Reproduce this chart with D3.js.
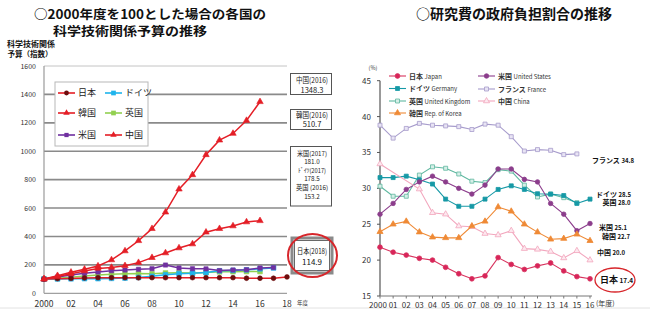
<!DOCTYPE html>
<html>
<head>
<meta charset="utf-8">
<script src="https://cdn.jsdelivr.net/npm/d3@7"></script>
<style>
  body { margin: 0; background: #fff; }
  svg { display: block; font-family: "Noto Sans CJK JP", "Noto Sans", sans-serif; }
</style>
</head>
<body>
<svg id="chart" width="650" height="321"></svg>
<script>
// ---- left chart: S&T budget index (2000 = 100)
const yearsIdx = [2000, 2001, 2002, 2003, 2004, 2005, 2006, 2007, 2008, 2009,
  2010, 2011, 2012, 2013, 2014, 2015, 2016, 2017, 2018]
const japanIdx = [100, 103, 105, 108, 110, 110, 110, 109, 110, 110, 110, 110, 110, 110, 110, 106, 106, 106, 114.9]
const germanyIdx = [100, 101, 102, 103, 103, 105, 107, 112, 120, 130, 138, 142, 146, 158, 161, 165, 172, 178.5]
const ukIdx = [100, 106, 113, 121, 129, 134, 138, 140, 137, 143, 145, 143, 146, 151, 152, 153, 153.2]
const usIdx = [100, 115, 128, 141, 150, 159, 164, 169, 173, 199, 178, 173, 172, 160, 164, 166, 178, 181.0]
const koreaIdx = [100, 118, 137, 157, 175, 182, 194, 216, 251, 284, 319, 347, 430, 455, 474, 502, 510.7]
const chinaIdx = [100, 124, 148, 169, 192, 235, 298, 370, 455, 571, 733, 834, 975, 1078, 1125, 1216, 1348.3]
const idxTicks = [0, 200, 400, 600, 800, 1000, 1200, 1400, 1600]
const idxYearTicks = [2000, 2002, 2004, 2006, 2008, 2010, 2012, 2014, 2016, 2018]

// ---- right chart: government share of research expenditure (%)
const yearsPct = [2000, 2001, 2002, 2003, 2004, 2005, 2006, 2007, 2008,
  2009, 2010, 2011, 2012, 2013, 2014, 2015, 2016]
const japanPct = [21.8, 21.1, 20.7, 20.25, 20.0, 19.0, 18.1, 17.4, 17.8, 20.35, 19.4, 18.7, 19.2, 19.6, 18.5, 17.7, 17.4]
const germanyPct = [31.5, 31.5, 31.7, 31.2, 30.6, 28.5, 27.5, 27.5, 28.5, 29.85, 30.35, 29.85, 29.25, 29.2, 29.0, 27.9, 28.5]
const ukPct = [30.3, 28.9, 28.9, 31.85, 33.0, 32.8, 32.0, 31.0, 30.8, 32.6, 32.4, 30.45, 28.8, 29.2, 28.7, 28.0]
const koreaPct = [23.95, 25.0, 25.4, 23.9, 23.2, 23.1, 23.1, 24.75, 25.4, 27.4, 26.8, 25.0, 23.9, 22.9, 23.0, 23.6, 22.7]
const usPct = [26.4, 27.9, 29.85, 30.9, 31.7, 30.9, 30.0, 29.2, 30.45, 32.7, 32.7, 31.25, 30.9, 27.9, 26.4, 24.1, 25.1]
const francePct = [38.8, 37.0, 38.35, 39.05, 38.8, 38.7, 38.6, 38.2, 38.95, 38.8, 37.2, 35.2, 35.4, 35.3, 34.7, 34.8]
const chinaPct = [33.4, null, null, 29.9, 26.6, 26.4, 24.75, 24.65, 23.7, 23.5, 24.1, 21.6, 21.5, 21.2, 20.3, 21.3, 20.0]
const pctTicks = [15, 20, 25, 30, 35, 40, 45]
const pctYearLabels = ['2000', '01', '02', '03', '04', '05', '06', '07', '08', '09', '10', '11', '12', '13', '14', '15', '16']

const svg = d3.select('#chart')

// ================= LEFT CHART =================
const xL = d3.scaleLinear().domain([2000, 2018]).range([44, 287])
const yL = d3.scaleLinear().domain([0, 1600]).range([293.3, 66])

svg.append('text').attr('x', 34).attr('y', 19)
  .attr('textLength', 232).attr('lengthAdjust', 'spacingAndGlyphs')
  .style('font-size', '12.5px').style('font-weight', 700).attr('fill', '#111')
  .text('○2000年度を100とした場合の各国の')
svg.append('text').attr('x', 53).attr('y', 35.5)
  .attr('textLength', 154).attr('lengthAdjust', 'spacingAndGlyphs')
  .style('font-size', '12.5px').style('font-weight', 700).attr('fill', '#111')
  .text('科学技術関係予算の推移')

svg.append('text').attr('x', 31).attr('y', 47).attr('text-anchor', 'middle')
  .style('font-size', '8px').style('font-weight', 700).attr('fill', '#111')
  .text('科学技術関係')
svg.append('text').attr('x', 30).attr('y', 57).attr('text-anchor', 'middle')
  .style('font-size', '7.5px').style('font-weight', 700).attr('fill', '#111')
  .text('予算（指数）')

// grid
svg.append('g').selectAll('line').data(idxTicks.filter(d => d > 0)).enter()
  .append('line')
  .attr('x1', xL(2000)).attr('x2', xL(2018))
  .attr('y1', d => yL(d)).attr('y2', d => yL(d))
  .attr('stroke', d => d === 1600 ? '#c4c4c4' : '#8a8a8a')
  .attr('stroke-width', d => d === 1600 ? 1 : 1.6)

// axes
svg.append('line').attr('x1', xL(2000)).attr('x2', xL(2000))
  .attr('y1', yL(1600)).attr('y2', yL(0)).attr('stroke', '#9a9a9a').attr('stroke-width', 1.2)
svg.append('line').attr('x1', xL(2000)).attr('x2', xL(2018))
  .attr('y1', yL(0)).attr('y2', yL(0)).attr('stroke', '#a0a0a0').attr('stroke-width', 1.2)

svg.append('g').selectAll('text').data(idxTicks).enter()
  .append('text')
  .attr('x', 36).attr('y', d => yL(d) + 2.5)
  .attr('text-anchor', 'end')
  .style('font-size', '7px').attr('fill', '#333')
  .text(d => d)

svg.append('g').selectAll('text').data(idxYearTicks).enter()
  .append('text')
  .attr('x', d => xL(d)).attr('y', 307)
  .attr('text-anchor', 'middle')
  .style('font-size', '8.5px').attr('fill', '#333')
  .text(d => d === 2000 ? '2000' : String(d).slice(2))
svg.append('text').attr('x', 297).attr('y', 305)
  .style('font-size', '5.5px').attr('fill', '#333').text('年度')

const leftSeries = [
  { name: '英国', values: ukIdx, color: '#92d050', mfill: '#92d050', shape: d3.symbolSquare, size: 22 },
  { name: 'ドイツ', values: germanyIdx, color: '#1fb4ec', mfill: '#1fb4ec', shape: d3.symbolSquare, size: 22 },
  { name: '米国', values: usIdx, color: '#7030a0', mfill: '#7030a0', shape: d3.symbolSquare, size: 18 },
  { name: '日本', values: japanIdx, color: '#e41e26', mfill: '#6d0d0d', shape: d3.symbolCircle, size: 18 },
  { name: '韓国', values: koreaIdx, color: '#e41e26', mfill: '#e41e26', shape: d3.symbolTriangle, size: 18 },
  { name: '中国', values: chinaIdx, color: '#e41e26', mfill: '#e41e26', shape: d3.symbolTriangle, size: 18 }
]

const lineL = d3.line().x(d => xL(d[0])).y(d => yL(d[1]))

leftSeries.forEach(s => {
  const pts = s.values.map((v, i) => [yearsIdx[i], v])
  const g = svg.append('g')
  g.append('path').attr('d', lineL(pts))
    .attr('fill', 'none').attr('stroke', s.color).attr('stroke-width', 1.5)
  g.selectAll('path.m').data(pts).enter()
    .append('path').attr('class', 'm')
    .attr('transform', d => `translate(${xL(d[0])},${yL(d[1])})`)
    .attr('d', d3.symbol().type(s.shape).size(s.size))
    .attr('fill', s.mfill).attr('stroke', s.mfill).attr('stroke-width', 0.6)
})

// legend
const legL = svg.append('g')
legL.append('rect').attr('x', 55).attr('y', 82).attr('width', 93).attr('height', 64)
  .attr('fill', '#fff').attr('stroke', '#b8b8b8').attr('stroke-width', 1)
const legendOrder = ['日本', 'ドイツ', '韓国', '英国', '米国', '中国']
legendOrder.forEach((name, i) => {
  const s = leftSeries.find(d => d.name === name)
  const cx = i % 2 === 0 ? 58 : 105
  const cy = [93, 113, 135][Math.floor(i / 2)]
  legL.append('line').attr('x1', cx).attr('x2', cx + 17).attr('y1', cy).attr('y2', cy)
    .attr('stroke', s.color).attr('stroke-width', 1.6)
  legL.append('path').attr('transform', `translate(${cx + 8.5},${cy})`)
    .attr('d', d3.symbol().type(s.shape).size(s.size)).attr('fill', s.mfill)
  legL.append('text').attr('x', cx + 20).attr('y', cy + 3.3)
    .style('font-size', '9px').attr('fill', '#222').text(name)
})

// annotation boxes
const last = arr => arr[arr.length - 1]
const fmt = d3.format('.1f')
const boxes = [
  { y: 73.5, h: 21, size: 7.5, lines: [['中国(2016)', 83, 32], [fmt(last(chinaIdx)), 92.5, 0]] },
  { y: 109.5, h: 20, size: 7.5, lines: [['韓国(2016)', 117.5, 32], [fmt(last(koreaIdx)), 127, 0]] },
  { y: 146.5, h: 59.5, size: 6.3, lines: [['米国(2017)', 155.5, 30], [fmt(last(usIdx)), 164, 0],
    ['ﾄﾞｲﾂ(2017)', 172.5, 28], [fmt(last(germanyIdx)), 181, 0],
    ['英国 (2016)', 190, 32], [fmt(last(ukIdx)), 199, 0]] }
]
boxes.forEach(b => {
  svg.append('rect').attr('x', 290.5).attr('y', b.y).attr('width', 41).attr('height', b.h)
    .attr('fill', '#fff').attr('stroke', '#555').attr('stroke-width', 1)
  b.lines.forEach(l => {
    const t = svg.append('text').attr('x', 312).attr('y', l[1]).attr('text-anchor', 'middle')
      .style('font-size', b.size + 'px').attr('fill', '#222').text(l[0])
    if (l[2]) t.attr('textLength', l[2]).attr('lengthAdjust', 'spacingAndGlyphs')
  })
})
svg.append('rect').attr('x', 292).attr('y', 238).attr('width', 40).attr('height', 35)
  .attr('fill', '#fff').attr('stroke', '#8a8a8a').attr('stroke-width', 3)
svg.append('rect').attr('x', 294.5).attr('y', 240.5).attr('width', 35).attr('height', 30)
  .attr('fill', '#fff').attr('stroke', '#444').attr('stroke-width', 0.8)
svg.append('text').attr('x', 312).attr('y', 254).attr('text-anchor', 'middle')
  .attr('textLength', 30).attr('lengthAdjust', 'spacingAndGlyphs')
  .style('font-size', '8px').attr('fill', '#111').text('日本(2018)')
svg.append('text').attr('x', 312).attr('y', 264.5).attr('text-anchor', 'middle')
  .style('font-size', '8px').attr('fill', '#111').text(fmt(last(japanIdx)))
svg.append('ellipse').attr('cx', 312.5).attr('cy', 255.5).attr('rx', 24.5).attr('ry', 21.5)
  .attr('fill', 'none').attr('stroke', '#d7262b').attr('stroke-width', 2)

// faint slide line
svg.append('line').attr('x1', 0).attr('x2', 650).attr('y1', 308).attr('y2', 308)
  .attr('stroke', '#e2e2e2').attr('stroke-width', 1)

// ================= RIGHT CHART =================
const xR = d3.scaleLinear().domain([2000, 2016]).range([380, 590])
const yR = d3.scaleLinear().domain([15, 45]).range([296, 80.7])

svg.append('text').attr('x', 416).attr('y', 19)
  .attr('textLength', 196).attr('lengthAdjust', 'spacingAndGlyphs')
  .style('font-size', '14px').style('font-weight', 700).attr('fill', '#111')
  .text('○研究費の政府負担割合の推移')

svg.append('line').attr('x1', xR(2000)).attr('x2', xR(2000))
  .attr('y1', yR(45)).attr('y2', yR(15)).attr('stroke', '#555').attr('stroke-width', 1.2)
svg.append('line').attr('x1', xR(2000)).attr('x2', xR(2016) + 2)
  .attr('y1', yR(15)).attr('y2', yR(15)).attr('stroke', '#777').attr('stroke-width', 1)
svg.append('g').selectAll('line').data(pctTicks).enter().append('line')
  .attr('x1', xR(2000) - 3).attr('x2', xR(2000))
  .attr('y1', d => yR(d)).attr('y2', d => yR(d)).attr('stroke', '#555')
svg.append('g').selectAll('line').data(yearsPct).enter().append('line')
  .attr('x1', d => xR(d)).attr('x2', d => xR(d))
  .attr('y1', yR(15)).attr('y2', yR(15) + 2.5).attr('stroke', '#777')

svg.append('g').selectAll('text').data(pctTicks).enter().append('text')
  .attr('x', 371).attr('y', d => yR(d) + 3)
  .attr('text-anchor', 'end')
  .style('font-size', '8px').attr('fill', '#333').text(d => d)
svg.append('text').attr('x', 373).attr('y', 70).attr('text-anchor', 'middle')
  .style('font-size', '5.5px').attr('fill', '#333').text('(%)')

svg.append('g').selectAll('text').data(yearsPct).enter().append('text')
  .attr('x', (d, i) => i === 0 ? xR(d) - 2 : xR(d))
  .attr('y', 308)
  .attr('text-anchor', 'middle')
  .style('font-size', '8px').attr('fill', '#333')
  .text((d, i) => pctYearLabels[i])
svg.append('text').attr('x', 596).attr('y', 305.5)
  .style('font-size', '7px').attr('fill', '#333').text('(年度)')

const rightSeries = [
  { name: 'フランス France', values: francePct, color: '#a79ccc', fill: '#e8e4f4', shape: d3.symbolSquare, size: 16 },
  { name: '英国 United Kingdom', values: ukPct, color: '#5fb8a0', fill: '#d6efe8', shape: d3.symbolSquare, size: 16 },
  { name: 'ドイツ Germany', values: germanyPct, color: '#1699a6', fill: '#1699a6', shape: d3.symbolSquare, size: 16 },
  { name: '米国 United States', values: usPct, color: '#8c3d8c', fill: '#8c3d8c', shape: d3.symbolCircle, size: 16 },
  { name: '中国 China', values: chinaPct, color: '#f2a6bd', fill: '#fde8ef', shape: d3.symbolTriangle, size: 16 },
  { name: '韓国 Rep. of Korea', values: koreaPct, color: '#ef8a36', fill: '#ef8a36', shape: d3.symbolTriangle, size: 16 },
  { name: '日本 Japan', values: japanPct, color: '#d8335e', fill: '#d8245a', shape: d3.symbolCircle, size: 18 }
]

const lineR = d3.line().x(d => xR(d[0])).y(d => yR(d[1]))

rightSeries.forEach(s => {
  const pts = s.values.map((v, i) => [yearsPct[i], v]).filter(d => d[1] !== null)
  const g = svg.append('g')
  g.append('path').attr('d', lineR(pts))
    .attr('fill', 'none').attr('stroke', s.color).attr('stroke-width', 1.1)
  g.selectAll('path.m').data(pts).enter()
    .append('path').attr('class', 'm')
    .attr('transform', d => `translate(${xR(d[0])},${yR(d[1])})`)
    .attr('d', d3.symbol().type(s.shape).size(s.size))
    .attr('fill', s.fill).attr('stroke', s.color).attr('stroke-width', 0.8)
})

// right legend
const legR = [
  ['日本 Japan', 389, 76], ['ドイツ Germany', 389, 88.5], ['英国 United Kingdom', 389, 101],
  ['韓国 Rep. of Korea', 389, 113], ['米国 United States', 478, 76],
  ['フランス France', 478, 89], ['中国 China', 478, 101]
]
legR.forEach(l => {
  const s = rightSeries.find(d => d.name === l[0])
  svg.append('line').attr('x1', l[1]).attr('x2', l[1] + 17).attr('y1', l[2]).attr('y2', l[2])
    .attr('stroke', s.color).attr('stroke-width', 1.1)
  svg.append('path').attr('transform', `translate(${l[1] + 8.5},${l[2]})`)
    .attr('d', d3.symbol().type(s.shape).size(s.size))
    .attr('fill', s.fill).attr('stroke', s.color).attr('stroke-width', 0.8)
  const parts = l[0].split(' ')
  const t = svg.append('text').attr('x', l[1] + 20).attr('y', l[2] + 2.5).attr('fill', '#333')
  t.append('tspan').style('font-size', '7px').style('font-weight', 700).text(parts[0] + ' ')
  t.append('tspan').style('font-size', '6px').text(parts.slice(1).join(' '))
})

// end labels
const endLabels = [
  ['フランス', francePct, 592, 163],
  ['ドイツ', germanyPct, 596, 196.5],
  ['英国', ukPct, 602.5, 205],
  ['米国', usPct, 599, 229.5],
  ['韓国', koreaPct, 602, 239],
  ['中国', chinaPct, 597, 255]
]
endLabels.forEach(l => {
  const t = svg.append('text').attr('x', l[2]).attr('y', l[3]).attr('fill', '#111')
    .style('font-weight', 700)
  t.append('tspan').style('font-size', '7px').text(l[0])
  t.append('tspan').attr('dx', 1.5).style('font-size', '6px').text(fmt(last(l[1])))
})
const jt = svg.append('text').attr('x', 600).attr('y', 283).attr('fill', '#111').style('font-weight', 700)
jt.append('tspan').style('font-size', '9px').text('日本')
jt.append('tspan').attr('dx', 1.5).style('font-size', '6.5px').text(fmt(last(japanPct)))
svg.append('ellipse').attr('cx', 615).attr('cy', 280).attr('rx', 20).attr('ry', 12)
  .attr('fill', 'none').attr('stroke', '#d7262b').attr('stroke-width', 1.3)
</script>
</body>
</html>
